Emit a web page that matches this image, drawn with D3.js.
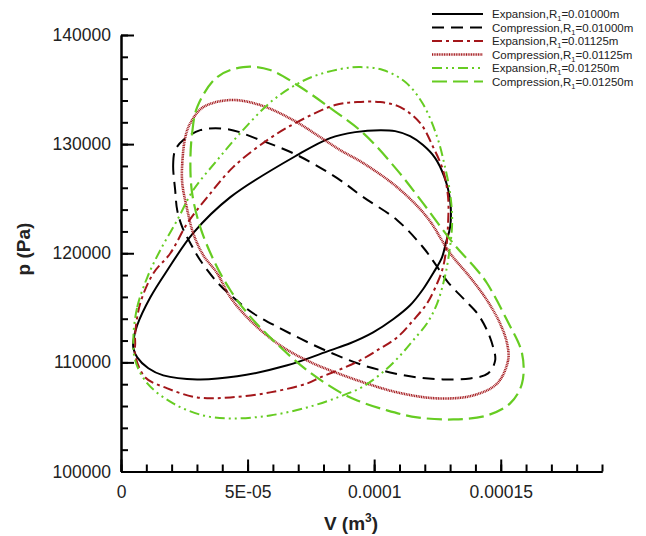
<!DOCTYPE html>
<html>
<head>
<meta charset="utf-8">
<script src="https://cdn.jsdelivr.net/npm/d3@7"></script>
<style>
  body { margin: 0; background: #fff; }
  svg { font-family: Arial, "Liberation Sans", sans-serif; }
</style>
</head>
<body>
<div id="chart"></div>
<script>
// volume in m^3, pressure in Pa
const expV1 = [0.49e-5,0.64e-5,1.16e-5,1.83e-5,2.85e-5,4.32e-5,6.96e-5,8.26e-5,9.25e-5,10.24e-5,10.83e-5,11.42e-5,11.93e-5,12.41e-5,12.76e-5,13.00e-5,13.00e-5,12.84e-5,12.68e-5,12.33e-5,11.93e-5,11.42e-5,10.75e-5,9.96e-5,9.05e-5,8.26e-5,6.57e-5,4.59e-5,3.01e-5,1.67e-5,1.08e-5,0.64e-5,0.49e-5];
const expP1 = [112020,113400,115960,118440,121840,125140,128990,130550,131100,131280,131190,130730,129910,128720,127060,124860,122390,121010,119630,118170,116700,115230,113950,112750,111750,111100,109730,108720,108440,108810,109460,110460,111290];

const cmpV1 = [2.14e-5,2.06e-5,2.14e-5,2.46e-5,3.13e-5,4.20e-5,5.50e-5,6.96e-5,8.54e-5,9.57e-5,10.91e-5,11.93e-5,12.37e-5,12.92e-5,13.59e-5,14.07e-5,14.46e-5,14.70e-5,14.78e-5,14.50e-5,13.79e-5,12.72e-5,11.70e-5,10.63e-5,9.57e-5,8.54e-5,7.47e-5,6.29e-5,5.22e-5,4.43e-5,3.80e-5,3.13e-5,2.74e-5,2.42e-5,2.22e-5];
const cmpP1 = [125780,128070,129450,130370,131280,131380,130370,128990,126880,125140,123030,120550,119170,117340,115690,114500,112940,111380,110190,108990,108530,108440,108620,109080,109730,110640,111740,113120,114500,115960,117340,119360,120920,122390,123950];

const expV2 = [0.56e-5,0.56e-5,0.76e-5,1.28e-5,1.95e-5,2.62e-5,3.41e-5,4.43e-5,5.78e-5,6.96e-5,8.46e-5,9.33e-5,10.24e-5,11.03e-5,11.82e-5,12.33e-5,12.72e-5,12.92e-5,12.92e-5,12.84e-5,12.72e-5,12.49e-5,12.09e-5,11.54e-5,10.91e-5,10.24e-5,9.45e-5,8.66e-5,7.87e-5,7.35e-5,5.89e-5,4.32e-5,3.01e-5,1.83e-5,0.96e-5,0.56e-5];
const expP2 = [111740,112660,115410,118170,120000,122750,125140,127890,130370,132020,133580,133850,133850,133390,131930,129730,127620,125140,122750,120280,118720,117250,115410,113850,112290,111280,110190,109360,108620,108070,107250,106790,106790,107620,108620,110640];

const cmpV2 = [2.42e-5,2.42e-5,2.54e-5,2.74e-5,3.25e-5,4.32e-5,5.50e-5,6.80e-5,7.87e-5,8.66e-5,9.57e-5,10.91e-5,12.09e-5,13.00e-5,13.79e-5,14.46e-5,14.97e-5,15.25e-5,15.29e-5,14.86e-5,13.91e-5,12.49e-5,10.91e-5,9.57e-5,8.26e-5,7.59e-5,6.40e-5,5.22e-5,4.32e-5,3.80e-5,3.25e-5,2.85e-5,2.62e-5];
const cmpP2 = [126420,128260,130640,131930,133390,134040,133580,132200,130640,129450,128260,126050,123300,120000,117800,115690,113580,111740,110190,108070,106970,106700,107250,108170,109270,109910,111380,113580,115960,118170,119820,121840,123950];

const expV3 = [0.49e-5,0.64e-5,1.04e-5,1.55e-5,2.22e-5,2.85e-5,3.80e-5,4.71e-5,6.01e-5,7.35e-5,8.66e-5,9.45e-5,10.35e-5,11.23e-5,11.93e-5,12.49e-5,12.80e-5,13.00e-5,13.08e-5,12.92e-5,12.76e-5,12.49e-5,12.09e-5,11.54e-5,11.03e-5,10.43e-5,9.57e-5,8.66e-5,7.35e-5,5.89e-5,4.43e-5,3.25e-5,2.06e-5,1.04e-5,0.56e-5];
const expP3 = [112300,115050,117800,120280,123030,125780,128530,131010,134040,135970,136880,137060,136790,135690,133670,130640,127890,125500,122750,119360,117520,115410,113580,112020,110640,109270,107800,106880,105870,105140,104860,105140,106240,108070,110190];

const cmpV3 = [2.74e-5,2.81e-5,3.01e-5,3.80e-5,4.83e-5,5.89e-5,7.08e-5,8.38e-5,9.57e-5,10.91e-5,11.93e-5,13.12e-5,14.07e-5,14.46e-5,15.25e-5,15.84e-5,15.84e-5,15.37e-5,14.46e-5,13.12e-5,11.70e-5,10.51e-5,9.33e-5,8.66e-5,7.35e-5,6.01e-5,4.99e-5,4.32e-5,3.72e-5,3.13e-5,2.81e-5];
const cmpP3 = [128260,131010,133390,136150,137060,136790,135230,133120,131010,127620,124590,120920,118440,117250,113850,110830,108070,106240,105140,104770,104960,105600,106510,107250,109270,112020,114500,116610,119080,122390,125500];

const seriesNames = ["Expansion", "Compression", "Expansion", "Compression", "Expansion", "Compression"];
const radii = ["0.01000", "0.01000", "0.01125", "0.01125", "0.01250", "0.01250"];

const xTickValues = [0, 5e-5, 1e-4, 1.5e-4];
const xTickLabels = ["0", "5E-05", "0.0001", "0.00015"];
const yTickValues = [100000, 110000, 120000, 130000, 140000];
const yTickLabels = ["100000", "110000", "120000", "130000", "140000"];

const styles = [
    {color: "#000000", dash: null, w: 2},
    {color: "#000000", dash: "12,7", w: 2},
    {color: "#a3161a", dash: "10,4,3,4", w: 2},
    {color: "#a3161a", dash: "1,0.7", w: 2.6},
    {color: "#66cc22", dash: "10,4,2,4,2,4", w: 2},
    {color: "#66cc22", dash: "15,6", w: 2.2}
];

const loops = [[expV1, expP1], [cmpV1, cmpP1], [expV2, expP2], [cmpV2, cmpP2], [expV3, expP3], [cmpV3, cmpP3]]
    .map(([v, p]) => v.map((d, i) => ({v: d, p: p[i]})));

const width = 646, height = 536;
const svg = d3.select("#chart").append("svg")
    .attr("width", width)
    .attr("height", height);

const x = d3.scaleLinear().domain([0, 0.00019]).range([121, 602]);
const y = d3.scaleLinear().domain([100000, 140000]).range([471.5, 35]);

// curves
const line = d3.line()
    .x(d => x(d.v))
    .y(d => y(d.p))
    .curve(d3.curveCatmullRomClosed.alpha(0.5));

svg.append("g").selectAll("path")
    .data(loops)
    .enter().append("path")
    .attr("d", d => line(d))
    .attr("fill", "none")
    .attr("stroke", (d, i) => styles[i].color)
    .attr("stroke-width", (d, i) => styles[i].w)
    .attr("stroke-dasharray", (d, i) => styles[i].dash);

// axes, ticks inward
const xMinor = d3.range(0, 20).map(i => i * 1e-5);
const yMinor = d3.range(0, 21).map(i => 100000 + i * 2000);

svg.append("g")
    .attr("transform", `translate(0,${y(100000)})`)
    .call(d3.axisBottom(x).tickValues(xMinor).tickSize(-7).tickSizeOuter(0).tickFormat(""));
svg.append("g")
    .attr("class", "xmajor")
    .attr("transform", `translate(0,${y(100000)})`)
    .call(d3.axisBottom(x).tickValues(xTickValues).tickSize(-12).tickSizeOuter(0).tickPadding(14)
        .tickFormat((d, i) => xTickLabels[i]));

svg.append("g")
    .attr("transform", `translate(${x(0)},0)`)
    .call(d3.axisLeft(y).tickValues(yMinor).tickSize(-7).tickSizeOuter(0).tickFormat(""));
svg.append("g")
    .attr("class", "ymajor")
    .attr("transform", `translate(${x(0)},0)`)
    .call(d3.axisLeft(y).tickValues(yTickValues).tickSize(-13).tickSizeOuter(0).tickPadding(10)
        .tickFormat((d, i) => yTickLabels[i]));

svg.selectAll(".domain, .tick line")
    .attr("stroke", "#000")
    .attr("stroke-width", 2);
svg.selectAll(".tick text")
    .attr("font-family", "Arial, 'Liberation Sans', sans-serif")
    .attr("font-size", "17.5px")
    .attr("fill", "#222");

// axis titles
const xt = svg.append("text")
    .attr("x", 351)
    .attr("y", 530)
    .attr("text-anchor", "middle")
    .attr("font-size", "19px")
    .attr("font-weight", "bold")
    .attr("fill", "#222");
xt.append("tspan").text("V (m");
xt.append("tspan").attr("font-size", "12px").attr("dy", -8).text("3");
xt.append("tspan").attr("dy", 8).text(")");

svg.append("text")
    .attr("transform", "translate(30,249) rotate(-90)")
    .attr("text-anchor", "middle")
    .attr("font-size", "19px")
    .attr("font-weight", "bold")
    .attr("fill", "#222")
    .text("p (Pa)");

// legend
const legend = svg.append("g").attr("transform", "translate(432,14)");
const items = legend.selectAll("g")
    .data(seriesNames)
    .enter().append("g")
    .attr("transform", (d, i) => `translate(0,${i * 13.5})`);

items.append("line")
    .attr("x1", 0).attr("x2", 51)
    .attr("y1", 0).attr("y2", 0)
    .attr("stroke", (d, i) => styles[i].color)
    .attr("stroke-width", (d, i) => styles[i].w)
    .attr("stroke-dasharray", (d, i) => styles[i].dash);

const lt = items.append("text")
    .attr("x", 60)
    .attr("y", 4)
    .attr("font-size", "11.5px")
    .attr("fill", "#222");
lt.append("tspan").text(d => d + ",R");
lt.append("tspan").attr("font-size", "7.5px").attr("dy", 3).text("1");
lt.append("tspan").attr("dy", -3).text((d, i) => "=" + radii[i] + "m");
</script>
</body>
</html>
